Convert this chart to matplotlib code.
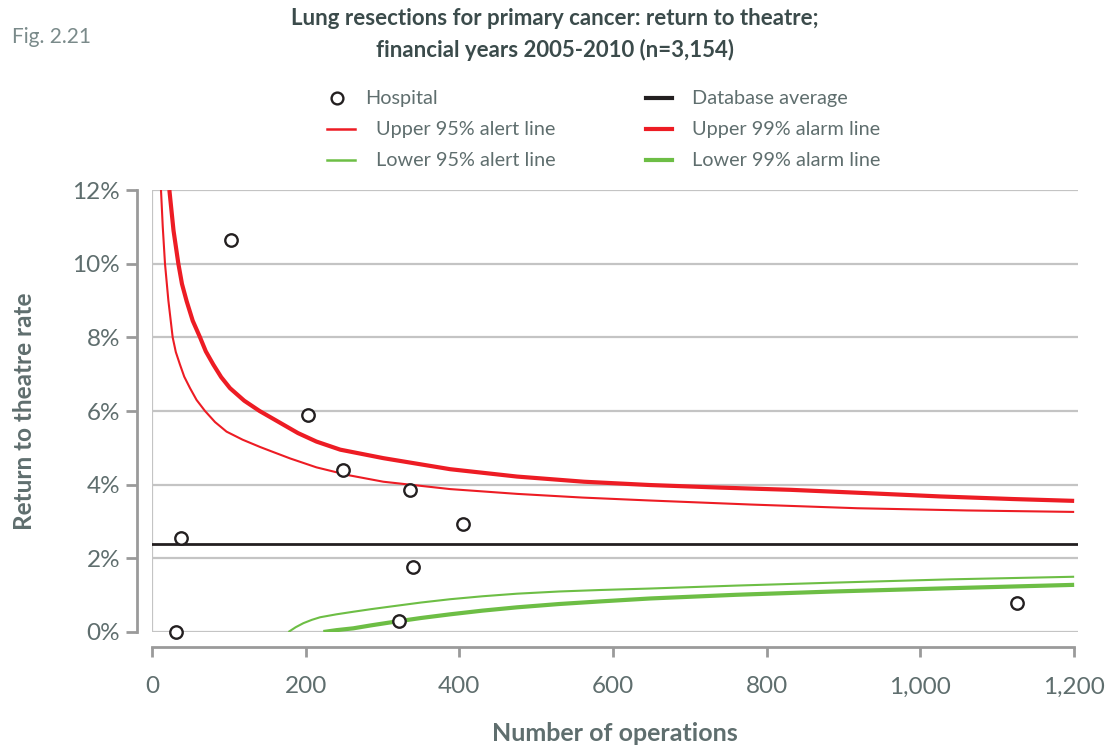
import matplotlib
matplotlib.use("Agg")
import matplotlib.pyplot as plt
from matplotlib.lines import Line2D

plt.rcParams['font.family'] = ['Lato', 'DejaVu Sans']

# hospitals: number of operations, return to theatre rate (%)
hosp_n = [31, 38, 103, 203, 249, 336, 339, 405, 322, 1125]
hosp_rate = [0.0, 2.55, 10.65, 5.9, 4.4, 3.86, 1.77, 2.93, 0.30, 0.79]

db_average = 2.4

# funnel limits
up95_n = [11.7, 14, 16.9, 21.3, 26.9, 31, 36.4, 42, 49.5, 58, 69, 82, 97, 118, 141, 156,
          180, 214, 255, 301, 388, 475, 560, 648, 780, 918, 1060, 1200]
up95_r = [12.0, 11.0, 10.0, 9.0, 8.0, 7.6, 7.26, 6.93, 6.62, 6.3, 6.0, 5.7, 5.44, 5.22, 5.02, 4.90,
          4.71, 4.47, 4.26, 4.08, 3.88, 3.75, 3.65, 3.57, 3.46, 3.36, 3.30, 3.26]

up99_n = [22.6, 28, 34.3, 39, 45.1, 53, 62.5, 70, 79.8, 90, 101.5, 120, 140, 165, 190, 214, 245,
          301, 388, 475, 562, 648, 740, 831, 930, 1026, 1120, 1200]
up99_r = [12.0, 10.9, 10.0, 9.45, 8.98, 8.45, 8.0, 7.62, 7.26, 6.92, 6.62, 6.28, 6.0, 5.70, 5.40,
          5.17, 4.95, 4.72, 4.42, 4.22, 4.08, 3.99, 3.92, 3.86, 3.77, 3.68, 3.61, 3.56]

lo95_n = [177.5, 187, 197, 208, 218.7, 240, 262, 285, 310, 350, 388, 430, 475, 530, 583, 648,
          760, 887, 1040, 1200]
lo95_r = [0.0, 0.13, 0.24, 0.33, 0.40, 0.48, 0.55, 0.62, 0.69, 0.80, 0.89, 0.97, 1.04, 1.10,
          1.14, 1.18, 1.26, 1.34, 1.43, 1.50]

lo99_n = [223, 240, 262, 285, 310, 350, 388, 430, 475, 530, 583, 648, 760, 887, 1040, 1200]
lo99_r = [0.0, 0.05, 0.10, 0.18, 0.26, 0.38, 0.48, 0.58, 0.67, 0.76, 0.83, 0.91, 1.01, 1.10,
          1.19, 1.28]

x_ticks = [0, 200, 400, 600, 800, 1000, 1200]
x_ticklabels = ['0', '200', '400', '600', '800', '1,000', '1,200']
y_ticks = [0, 2, 4, 6, 8, 10, 12]
y_ticklabels = ['0%', '2%', '4%', '6%', '8%', '10%', '12%']

RED = '#ED1C24'
GREEN = '#6DBE45'
GRID = '#C4C4C4'
AXIS = '#9A9A9A'
TXT = '#5F6E6E'
TITLE = '#3B4B4B'

W, H = 1112, 748
fig = plt.figure(figsize=(W / 100, H / 100), dpi=100)

# axes box in pixels: left 152, right 1078, top 190, bottom 632
ax = fig.add_axes([152 / W, 1 - 632 / H, (1078 - 152) / W, (632 - 190) / H])
ax.set_xlim(0, 1205)
ax.set_ylim(0, 12)

for y in y_ticks:
    ax.axhline(y, color=GRID, lw=1.6, zorder=1)
ax.axvline(0, color=GRID, lw=1.6, zorder=1)

ax.plot(up95_n, up95_r, color=RED, lw=1.5, zorder=3, solid_capstyle='butt', solid_joinstyle='round')
ax.plot(up99_n, up99_r, color=RED, lw=3.0, zorder=3, solid_capstyle='butt', solid_joinstyle='round')
ax.plot(lo95_n, lo95_r, color=GREEN, lw=1.5, zorder=3, solid_capstyle='butt', solid_joinstyle='round')
ax.plot(lo99_n, lo99_r, color=GREEN, lw=3.0, zorder=3, solid_capstyle='butt', solid_joinstyle='round')
ax.plot([0, 1205], [db_average, db_average], color='#231F20', lw=2.0, zorder=3)

ax.scatter(hosp_n, hosp_rate, s=80, facecolor='white', edgecolor='#231F20',
           linewidth=1.7, zorder=5, clip_on=False)

for side in ['top', 'right']:
    ax.spines[side].set_visible(False)
ax.spines['left'].set_position(('outward', 11))
ax.spines['bottom'].set_position(('outward', 11))
ax.spines['left'].set_bounds(0, 12)
ax.spines['bottom'].set_bounds(0, 1200)
for side in ['left', 'bottom']:
    ax.spines[side].set_color(AXIS)
    ax.spines[side].set_linewidth(2.0)

ax.set_xticks(x_ticks)
ax.set_xticklabels(x_ticklabels)
ax.set_yticks(y_ticks)
ax.set_yticklabels(y_ticklabels)
ax.tick_params(axis='y', length=8, width=2.0, color=AXIS, pad=4, labelsize=17.5, labelcolor=TXT)
ax.tick_params(axis='x', length=7, width=2.0, color=AXIS, pad=14, labelsize=17.5, labelcolor=TXT)

ax.set_xlabel('Number of operations', fontsize=18, fontweight='bold', color=TXT, labelpad=18)
ax.set_ylabel('Return to theatre rate', fontsize=17.5, fontweight='bold', color=TXT, labelpad=26)

# overlay for titles and legend, pixel coordinates
ov = fig.add_axes([0, 0, 1, 1])
ov.set_xlim(0, W)
ov.set_ylim(H, 0)
ov.axis('off')

ov.text(12, 37, 'Fig. 2.21', fontsize=15, color='#7A8A8A', va='center', ha='left')
ov.text(555, 18, 'Lung resections for primary cancer: return to theatre;',
        fontsize=16, fontweight='bold', color=TITLE, ha='center', va='center')
ov.text(555, 50, 'financial years 2005-2010 (n=3,154)',
        fontsize=16, fontweight='bold', color=TITLE, ha='center', va='center')

leg_fs = 14.3
ov.plot([337], [98], marker='o', ms=8.5, mfc='white', mec='#231F20', mew=1.7)
ov.text(365, 98, 'Hospital', fontsize=leg_fs, color=TXT, va='center')
ov.add_line(Line2D([327, 355], [129, 129], color=RED, lw=1.8))
ov.text(376, 129, 'Upper 95% alert line', fontsize=leg_fs, color=TXT, va='center')
ov.add_line(Line2D([327, 355], [160, 160], color=GREEN, lw=1.8))
ov.text(376, 160, 'Lower 95% alert line', fontsize=leg_fs, color=TXT, va='center')

ov.add_line(Line2D([646, 672], [98, 98], color='#231F20', lw=3))
ov.text(692, 98, 'Database average', fontsize=leg_fs, color=TXT, va='center')
ov.add_line(Line2D([646, 672], [129, 129], color=RED, lw=3))
ov.text(692, 129, 'Upper 99% alarm line', fontsize=leg_fs, color=TXT, va='center')
ov.add_line(Line2D([646, 672], [160, 160], color=GREEN, lw=3))
ov.text(692, 160, 'Lower 99% alarm line', fontsize=leg_fs, color=TXT, va='center')

fig.savefig('out.png', dpi=100)
